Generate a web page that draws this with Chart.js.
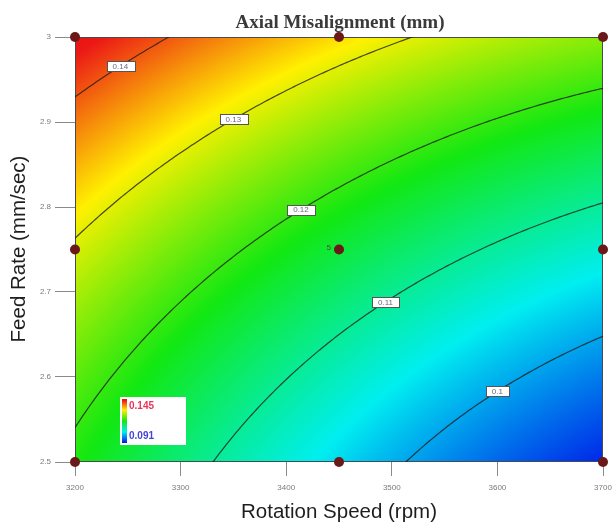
<!DOCTYPE html>
<html><head><meta charset="utf-8">
<script src="https://cdn.jsdelivr.net/npm/chart.js@4.4.1/dist/chart.umd.min.js"></script>
<style>html,body{margin:0;padding:0;background:#fff;overflow:hidden}#wrap{width:616px;height:525px;position:relative}</style>
</head><body><div id="wrap"><canvas id="c" width="616" height="525"></canvas></div>
<script>
// ---- data ----
const speedLevels = [3200, 3450, 3700];          // rpm (design levels)
const feedLevels  = [2.5, 2.75, 3.0];            // mm/sec (design levels)
// estimated response (Axial Misalignment, mm) at design levels: rows = feed, cols = speed
const responseGrid = [
  [0.1186, 0.1032, 0.0922],
  [0.1293, 0.1155, 0.1063],
  [0.1449, 0.1326, 0.1249]
];
const contourLevels = [0.10, 0.11, 0.12, 0.13, 0.14];
const contourLabels = ['0.1', '0.11', '0.12', '0.13', '0.14'];
const labelSpeeds   = [3600, 3494, 3414, 3350, 3243];
const xTicks = [3200, 3300, 3400, 3500, 3600, 3700];
const yTicks = [2.5, 2.6, 2.7, 2.8, 2.9, 3.0];
const designSpeed = [3200, 3450, 3700, 3200, 3450, 3700, 3200, 3450, 3700];
const designFeed  = [3.0, 3.0, 3.0, 2.75, 2.75, 2.75, 2.5, 2.5, 2.5];
const centerReplicates = '5';
const legendHigh = 0.145, legendLow = 0.091;
const titleText = 'Axial Misalignment (mm)';
const xTitle = 'Rotation Speed (rpm)';
const yTitle = 'Feed Rate (mm/sec)';

// ---- surface through the grid (quadratic in each factor) ----
function lag(u){ return [u*(u-1)/2, 1-u*u, u*(u+1)/2]; }
function surface(s, f){
  const u = (s - speedLevels[1]) / (speedLevels[2] - speedLevels[1]);
  const v = (f - feedLevels[1]) / (feedLevels[2] - feedLevels[1]);
  const a = lag(u), b = lag(v); let z = 0;
  for (let i=0;i<3;i++) for (let j=0;j<3;j++) z += b[i]*a[j]*responseGrid[i][j];
  return z;
}
function solveFeed(s, level){
  let lo = 2.0, hi = 3.5;
  if (surface(s,lo) > level || surface(s,hi) < level) return null;
  for (let k=0;k<40;k++){ const m=(lo+hi)/2; if (surface(s,m) < level) lo=m; else hi=m; }
  return (lo+hi)/2;
}
const stops = [[0,[0,20,232]],[0.25,[0,238,240]],[0.5,[18,232,18]],[0.75,[255,240,0]],[0.97,[236,24,22]],[1,[230,20,20]]];
function colorOf(z){
  let t = (z - legendLow) / (legendHigh - legendLow);
  t = Math.max(0, Math.min(1, t));
  for (let i=1;i<stops.length;i++){
    if (t <= stops[i][0]){
      const [t0,c0] = stops[i-1], [t1,c1] = stops[i];
      const r = (t - t0)/(t1 - t0);
      return [c0[0]+(c1[0]-c0[0])*r, c0[1]+(c1[1]-c0[1])*r, c0[2]+(c1[2]-c0[2])*r];
    }
  }
  return stops[stops.length-1][1];
}

const contourSets = contourLevels.map(level => {
  const pts = [];
  for (let s = xTicks[0]; s <= xTicks[xTicks.length-1] + 1e-9; s += 2.5){
    const f = solveFeed(s, level);
    if (f !== null) pts.push({x: s, y: f});
  }
  return {data: pts, showLine: true, pointRadius: 0, borderColor: 'rgba(30,30,30,0.8)', borderWidth: 1.2, fill: false};
});
const designSet = {
  data: designSpeed.map((s,i)=>({x:s, y:designFeed[i]})),
  pointRadius: 5, pointHoverRadius: 5, backgroundColor: '#6a1818', borderWidth: 0, showLine: false, clip: false
};

const heatPlugin = {
  id: 'heat',
  beforeDatasetsDraw(chart){
    const {ctx, chartArea: a, scales: {x, y}} = chart;
    const L = Math.round(a.left), T = Math.round(a.top);
    const w = Math.round(a.right) - L, h = Math.round(a.bottom) - T;
    const img = ctx.createImageData(w, h);
    for (let j=0;j<h;j++){
      const f = y.getValueForPixel(T + j + 0.5);
      for (let i=0;i<w;i++){
        const s = x.getValueForPixel(L + i + 0.5);
        const c = colorOf(surface(s, f));
        const k = (j*w + i)*4;
        img.data[k]=c[0]; img.data[k+1]=c[1]; img.data[k+2]=c[2]; img.data[k+3]=255;
      }
    }
    ctx.putImageData(img, L, T);
    ctx.save();
    ctx.strokeStyle = '#4a4a4a'; ctx.lineWidth = 1;
    ctx.strokeRect(L+0.5, T+0.5, w-1, h-1);
    ctx.restore();
  },
  afterDatasetsDraw(chart){
    const {ctx, scales: {x, y}} = chart;
    ctx.save();
    // contour labels
    ctx.font = '8px "Liberation Sans", Arial, sans-serif';
    ctx.textAlign = 'center'; ctx.textBaseline = 'middle';
    contourLevels.forEach((level, i) => {
      const s = labelSpeeds[i], f = solveFeed(s, level);
      if (f === null) return;
      const px = x.getPixelForValue(s), py = y.getPixelForValue(f);
      const tw = ctx.measureText(contourLabels[i]).width + 12;
      ctx.fillStyle = '#ffffff'; ctx.strokeStyle = '#555'; ctx.lineWidth = 1;
      ctx.fillRect(Math.round(px - tw/2)+0.5, Math.round(py - 5)+0.5, Math.round(tw), 10);
      ctx.strokeRect(Math.round(px - tw/2)+0.5, Math.round(py - 5)+0.5, Math.round(tw), 10);
      ctx.fillStyle = '#6a6a80';
      ctx.fillText(contourLabels[i], px, py + 0.5);
    });
    // replicate count beside the center point
    ctx.font = '8px "Liberation Sans", Arial, sans-serif';
    ctx.fillStyle = '#3a5a2a'; ctx.textAlign = 'right';
    ctx.fillText(centerReplicates, x.getPixelForValue(speedLevels[1]) - 8, y.getPixelForValue(feedLevels[1]) - 2);
    // colour legend
    const bx = 120, by = 397, bw = 66, bh = 48;
    ctx.fillStyle = '#ffffff'; ctx.fillRect(bx, by, bw, bh);
    const g = ctx.createLinearGradient(0, by+2, 0, by+bh-2);
    for (let i=stops.length-1;i>=0;i--){ const c = stops[i][1]; g.addColorStop(1 - stops[i][0], `rgb(${c[0]},${c[1]},${c[2]})`); }
    ctx.fillStyle = g; ctx.fillRect(bx+2, by+2, 5, bh-4);
    ctx.font = 'bold 10px "Liberation Sans", Arial, sans-serif';
    ctx.textAlign = 'left'; ctx.textBaseline = 'middle';
    ctx.fillStyle = '#e8345c'; ctx.fillText(String(legendHigh), bx+9, by+9);
    ctx.fillStyle = '#4444d8'; ctx.fillText(String(legendLow), bx+9, by+39);
    // titles
    ctx.fillStyle = '#3a3a3a'; ctx.textAlign = 'center'; ctx.textBaseline = 'alphabetic';
    ctx.font = 'bold 19px "Liberation Serif", "Times New Roman", serif';
    ctx.fillText(titleText, 340, 28);
    ctx.fillStyle = '#1e1e1e';
    ctx.font = '20.5px "Liberation Sans", Arial, sans-serif';
    ctx.textBaseline = 'middle';
    ctx.fillText(xTitle, 339, 512);
    ctx.translate(19, 249); ctx.rotate(-Math.PI/2);
    ctx.fillText(yTitle, 0, 0);
    ctx.restore();
  }
};

new Chart(document.getElementById('c').getContext('2d'), {
  type: 'scatter',
  data: {datasets: [...contourSets, designSet]},
  plugins: [heatPlugin],
  options: {
    responsive: false, animation: false, devicePixelRatio: 1,
    layout: {padding: {top: 37, right: 13, left: 0, bottom: 0}},
    plugins: {legend: {display: false}, tooltip: {enabled: false}, title: {display: false}},
    scales: {
      x: {
        type: 'linear', min: xTicks[0], max: xTicks[xTicks.length-1],
        afterBuildTicks: s => { s.ticks = xTicks.map(v => ({value: v})); },
        afterFit: s => { s.height = 63; s.paddingLeft = 0; s.paddingRight = 0; },
        border: {display: false},
        grid: {drawOnChartArea: false, drawTicks: true, tickLength: 14, color: '#8a8a8a'},
        ticks: {padding: 7, maxRotation: 0, color: '#7a7a7a', font: {size: 8, family: '"Liberation Sans", Arial, sans-serif'}, callback: v => String(v)}
      },
      y: {
        type: 'linear', min: yTicks[0], max: yTicks[yTicks.length-1],
        afterBuildTicks: s => { s.ticks = yTicks.map(v => ({value: v})); },
        afterFit: s => { s.width = 75; s.paddingTop = 0; s.paddingBottom = 0; },
        border: {display: false},
        grid: {drawOnChartArea: false, drawTicks: true, tickLength: 20, color: '#8a8a8a'},
        ticks: {padding: 4, color: '#7a7a7a', font: {size: 8, family: '"Liberation Sans", Arial, sans-serif'}, callback: v => String(Number(v.toFixed(1)))}
      }
    }
  }
});
</script></body></html>
